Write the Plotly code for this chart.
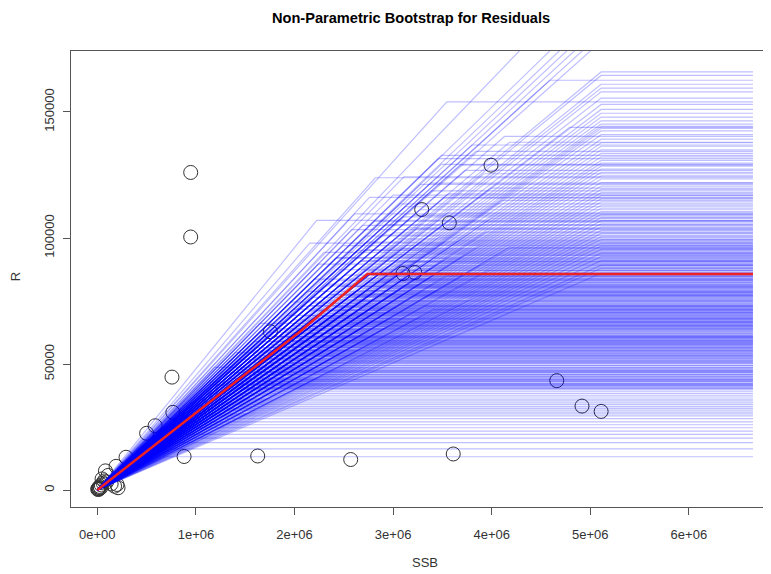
import plotly.graph_objects as go

# observed stock-recruit pairs (SSB in million t, R in thousands)
obs_ssb = [0.947, 0.947, 3.993, 3.29, 3.57, 3.10, 3.22, 1.755, 0.757, 0.766,
           0.586, 0.50, 0.291, 0.19, 0.88, 1.627, 2.57, 3.61, 4.66, 4.916, 5.11,
           0.004, 0.008, 0.012, 0.016, 0.020, 0.026, 0.032, 0.040, 0.048, 0.058,
           0.070, 0.082, 0.095, 0.110, 0.140, 0.175, 0.200, 0.210]
obs_rec = [126.0, 100.4, 128.9, 111.3, 106.0, 85.9, 86.3, 62.8, 44.8, 30.8,
           25.5, 22.5, 13.0, 9.4, 13.3, 13.5, 12.1, 14.3, 43.4, 33.3, 31.2,
           0.3, 0.6, 0.2, 1.0, 0.5, 1.4, 0.8, 2.0, 4.4, 2.8,
           3.6, 7.6, 3.2, 5.8, 2.4, 1.5, 2.2, 0.9]

# fitted hockey stick (red)
fit_ssb = [0.0, 2.06, 2.74, 6.65]
fit_rec = [0.0, 63.0, 85.7, 85.7]

# bootstrap hockey sticks: breakpoint SSB (million t) and plateau R (thousands)
boot_brk = [
    0.69, 0.74, 0.78,
    0.98, 0.82, 1.23, 0.82, 1.08, 0.82, 1.29, 1.09,
    0.97, 1.55, 1.22, 0.95, 1.44, 1.17, 0.94, 1.42, 1.16, 1.76, 1.34, 1.16, 1.63, 1.32,
    1.49, 1.27, 1.87, 1.19, 1.45, 1.70, 1.13, 1.44, 1.83, 1.34, 1.60, 2.26, 1.47, 1.77,
    1.29, 1.62, 2.06, 1.41, 1.79, 1.19, 1.64, 1.98,
    1.35, 1.65, 1.28, 1.60, 1.42, 1.95, 1.58, 1.37, 1.83, 1.56, 1.76, 1.13, 2.08, 1.47,
    1.73, 1.53, 2.12, 1.90, 1.44, 1.68, 2.39, 1.89, 1.57, 2.07, 1.80, 1.40, 2.20, 1.73,
    1.99, 2.67, 1.61, 1.90, 2.12, 1.75, 2.42, 2.02, 1.59, 1.91, 2.29, 2.60,
    1.93, 1.64, 1.84, 1.58, 2.21, 1.78, 2.01, 1.57, 1.91, 2.25, 1.77, 2.05, 2.63, 1.88,
    2.17, 1.74, 2.05, 2.56,
    2.01, 2.33, 1.79, 2.19, 2.68, 1.93, 2.15, 1.69, 2.52, 2.04, 2.36, 1.83, 2.93, 2.16,
    1.97, 2.34, 2.53, 1.65, 2.15, 2.78, 2.32, 1.99, 2.51, 2.13, 3.27, 2.30, 1.93, 2.49,
    2.16, 1.84, 2.46, 2.07, 2.33, 1.81, 2.68, 2.09, 2.26, 2.55, 2.09, 2.94, 2.36, 2.09,
    2.59, 1.69, 2.13, 2.96, 2.38, 2.19,
    2.26, 2.61, 2.95, 2.15, 2.47, 1.99, 2.78, 2.42, 3.31, 2.15, 2.63, 2.38, 2.97, 1.96,
    2.59, 2.35, 3.79, 2.81, 2.18, 2.56, 3.21, 2.35, 2.78, 2.52, 3.02, 2.13, 2.73, 3.46,
    2.42, 2.82, 2.23, 2.67, 2.42, 3.06, 2.18, 2.67, 2.44, 2.93, 2.65, 2.35, 3.13, 2.63,
    2.96, 3.41, 2.09, 2.68, 2.49, 3.28,
    2.67, 3.10, 2.45, 2.90, 2.33, 3.42, 2.66, 2.86, 3.09, 2.20, 2.63, 3.38, 2.83, 2.51,
    3.06, 2.79, 3.95, 2.43, 3.26, 2.68, 3.07, 2.24, 3.46, 5.11, 5.11, 5.11,
    2.87, 2.52, 3.13, 2.74, 2.44, 3.11, 2.92, 3.42, 2.78, 3.11, 2.66, 3.40, 2.96, 3.89,
    2.31, 2.88, 3.54, 2.72,
    3.01, 2.67, 3.40, 2.43, 3.72, 2.93, 3.26, 2.64, 4.18, 3.14, 2.155, 3.53, 3.02,
    5.11, 5.11, 5.11, 5.11, 5.11, 5.11, 5.11,
    3.12, 3.52, 2.90, 3.35, 3.09, 3.86, 3.25, 3.67,
    2.67, 2.42, 3.01, 2.30, 2.72, 2.91, 2.49, 2.73, 3.10, 2.72, 3.00, 2.58, 3.15, 2.93,
    2.81, 3.10, 2.61, 3.27, 3.07, 3.51, 3.00, 3.39, 3.38, 3.11, 3.73, 3.49, 3.49, 3.84,
    3.80, 4.13,
    3.46, 2.89, 3.94, 3.24, 2.69, 3.54, 2.225, 3.99, 3.21,
    5.11, 5.11, 5.11, 5.11, 5.11, 5.11, 5.11, 5.11,
    3.55, 3.12, 4.10, 2.76, 3.56, 3.99, 5.11, 5.11, 5.11, 5.11, 5.11, 5.11, 5.11, 5.11,
    3.28, 2.82, 3.92, 3.68, 5.11, 5.11, 5.11, 5.11, 5.11, 5.11, 5.11, 5.11,
    3.46, 4.18, 5.11, 5.11, 5.11, 5.11, 5.11, 5.11, 5.11,
    4.79, 5.11, 5.11, 5.11, 5.11, 5.11,
    5.11, 5.11, 4.59, 5.11, 5.11, 5.11, 3.545, 5.11, 5.11, 5.11, 5.11, 5.11, 5.11,
    5.11, 5.11, 5.11, 5.11, 5.11, 5.11, 5.11,
]
boot_rec = [
    13.2, 16.3, 18.8,
    20.6, 22.1, 23.4, 24.7, 25.9, 27.0, 28.3, 29.4,
    30.2, 30.9, 31.7, 32.4, 33.1, 33.9, 34.6, 35.4, 36.1, 36.9, 37.6, 38.3, 39.0, 39.7,
    40.2, 40.6, 41.1, 41.5, 42.0, 42.4, 42.9, 43.3, 43.8, 44.2, 44.7, 45.1, 45.6, 46.0,
    46.5, 46.9, 47.4, 47.8, 48.3, 48.7, 49.2, 49.6,
    40.4, 41.3, 42.2, 43.1, 44.0, 44.9, 45.8, 46.7, 47.6, 48.5, 49.4, 41.8, 43.6, 47.1,
    50.1, 50.5, 50.9, 51.3, 51.7, 52.1, 52.5, 52.9, 53.3, 53.7, 54.1, 54.5, 54.9, 55.3,
    55.7, 56.1, 56.5, 56.9, 57.3, 57.7, 58.1, 58.5, 58.9, 59.3, 59.6, 59.9,
    50.3, 50.7, 51.5, 52.3, 53.1, 53.5, 54.3, 55.1, 55.5, 56.3, 56.7, 57.5, 57.9, 58.3,
    58.7, 59.1, 59.5, 51.1,
    60.2, 60.5, 60.9, 61.2, 61.6, 61.9, 62.3, 62.6, 63.0, 63.3, 63.7, 64.0, 64.4, 64.7,
    65.1, 65.4, 65.8, 66.1, 66.5, 66.8, 67.2, 67.5, 67.9, 68.2, 68.6, 68.9, 69.3, 69.6,
    60.4, 60.7, 61.4, 62.1, 62.8, 63.5, 64.2, 64.9, 65.6, 66.3, 67.0, 67.7, 68.4, 69.1,
    69.8, 61.0, 63.9, 65.2, 66.6, 68.0,
    70.1, 70.4, 70.8, 71.1, 71.5, 71.8, 72.2, 72.5, 72.9, 73.2, 73.6, 73.9, 74.3, 74.6,
    75.0, 75.3, 75.7, 76.0, 76.4, 76.7, 77.1, 77.4, 77.8, 78.1, 78.5, 78.8, 79.2, 79.6,
    70.3, 70.6, 71.3, 72.0, 72.7, 73.4, 74.1, 74.8, 75.5, 76.2, 76.9, 77.6, 78.3, 79.0,
    79.8, 71.6, 73.0, 75.1, 77.2, 78.6,
    80.1, 80.5, 80.9, 81.3, 81.7, 82.1, 82.5, 82.9, 83.3, 83.7, 84.1, 84.5, 84.9, 85.3,
    85.7, 86.4, 86.9, 87.4, 87.9, 88.5, 89.0, 89.6, 89.9, 86.0, 88.0, 89.2,
    80.3, 80.7, 81.5, 82.3, 83.1, 83.9, 84.7, 85.5, 86.2, 87.1, 87.7, 88.3, 88.9, 89.4,
    81.0, 83.5, 85.0, 87.0,
    90.3, 90.9, 91.7, 92.2, 93.1, 93.6, 94.6, 95.1, 96.2, 97.2, 98.0, 98.7, 99.7,
    91.0, 92.6, 94.0, 95.5, 96.8, 98.0, 99.4,
    90.6, 91.4, 92.8, 93.9, 95.8, 96.5, 97.6, 99.1,
    90.8, 92.0, 93.3, 94.3, 95.3, 96.0, 97.0, 98.4, 99.2, 100.8, 102.0, 103.3, 104.0, 105.3,
    106.6, 108.4, 109.6, 111.2, 113.5, 115.8, 117.0, 118.7, 121.8, 124.3, 126.8, 129.2, 132.8, 134.4,
    136.9, 140.3,
    100.2, 101.1, 102.4, 103.7, 105.0, 106.3, 107.0, 107.7, 109.0,
    100.5, 101.8, 103.0, 104.4, 105.6, 106.9, 108.1, 109.4,
    110.0, 112.4, 114.9, 116.1, 117.5, 119.8, 110.5, 111.8, 113.0, 114.3, 115.5, 116.8, 118.0, 119.3,
    121.3, 123.9, 125.5, 128.9, 120.6, 122.0, 123.4, 124.7, 126.0, 127.3, 128.5, 129.7,
    131.5, 138.0, 130.8, 132.2, 133.6, 135.0, 136.4, 137.8, 139.2,
    143.9, 141.0, 142.5, 143.5, 144.3, 145.2,
    165.9, 164.5, 162.6, 161.0, 159.5, 158.0, 154.0, 155.5, 153.0, 151.0, 149.5, 148.0, 146.5,
    208.0, 194.0, 190.0, 187.0, 184.0, 181.0, 178.0,
]
ssb_grid_max = 6.65  # last SSB of the prediction grid

ssb_ticks = [0, 1e6, 2e6, 3e6, 4e6, 5e6, 6e6]
ssb_tick_labels = ["0e+00", "1e+06", "2e+06", "3e+06", "4e+06", "5e+06", "6e+06"]
rec_ticks = [0, 50000, 100000, 150000]
rec_tick_labels = ["0", "50000", "100000", "150000"]

M = 1e6
K = 1e3

fig = go.Figure()

fig.add_trace(go.Scatter(
    x=[v * M for v in obs_ssb], y=[v * K for v in obs_rec], mode="markers",
    marker=dict(symbol="circle-open", size=14, color="#333333", line=dict(width=1)),
    hoverinfo="skip"))

for b, p in zip(boot_brk, boot_rec):
    fig.add_trace(go.Scatter(
        x=[0, b * M, ssb_grid_max * M], y=[0, p * K, p * K], mode="lines",
        line=dict(color="rgba(0,0,255,0.25)", width=1.2),
        hoverinfo="skip"))

fig.add_trace(go.Scatter(
    x=[v * M for v in fit_ssb], y=[v * K for v in fit_rec], mode="lines",
    line=dict(color="#ee2222", width=2.6), hoverinfo="skip"))

axis_font = dict(family="Liberation Sans, Arial, sans-serif", size=13, color="#333333")

# page body has an 8px margin, so the figure is sized to fit the window
fig.update_layout(
    width=763, height=566,
    margin=dict(l=63, r=0, t=43, b=67),
    plot_bgcolor="white", paper_bgcolor="white",
    showlegend=False, hovermode=False,
    font=axis_font,
    xaxis=dict(range=[-0.267e6, 6.833e6], tickvals=ssb_ticks, ticktext=ssb_tick_labels,
               showgrid=False, zeroline=False, showline=True, mirror=True,
               linecolor="#555555", linewidth=1, ticks="outside", ticklen=7,
               tickcolor="#555555", tickfont=axis_font, ticklabelstandoff=8),
    yaxis=dict(range=[-6740, 174200], tickvals=rec_ticks, ticktext=rec_tick_labels,
               showgrid=False, zeroline=False, showline=True,
               linecolor="#555555", linewidth=1, ticks="outside", ticklen=7,
               tickcolor="#555555", tickangle=-90, tickfont=axis_font,
               ticklabelstandoff=4),
    annotations=[
        dict(text="<b>Non-Parametric Bootstrap for Residuals</b>", xref="paper", yref="paper",
             x=0.4857, y=1.0724, showarrow=False, xanchor="center", yanchor="middle",
             font=dict(family="Liberation Sans, Arial, sans-serif", size=14.6, color="black")),
        dict(text="SSB", xref="paper", yref="paper", x=0.5057, y=-0.1228, showarrow=False,
             xanchor="center", yanchor="middle", font=axis_font),
        dict(text="R", xref="paper", yref="paper", x=-0.08, y=0.504, showarrow=False,
             textangle=-90, xanchor="center", yanchor="middle", font=axis_font),
    ],
)

fig.write_html("out.html")
